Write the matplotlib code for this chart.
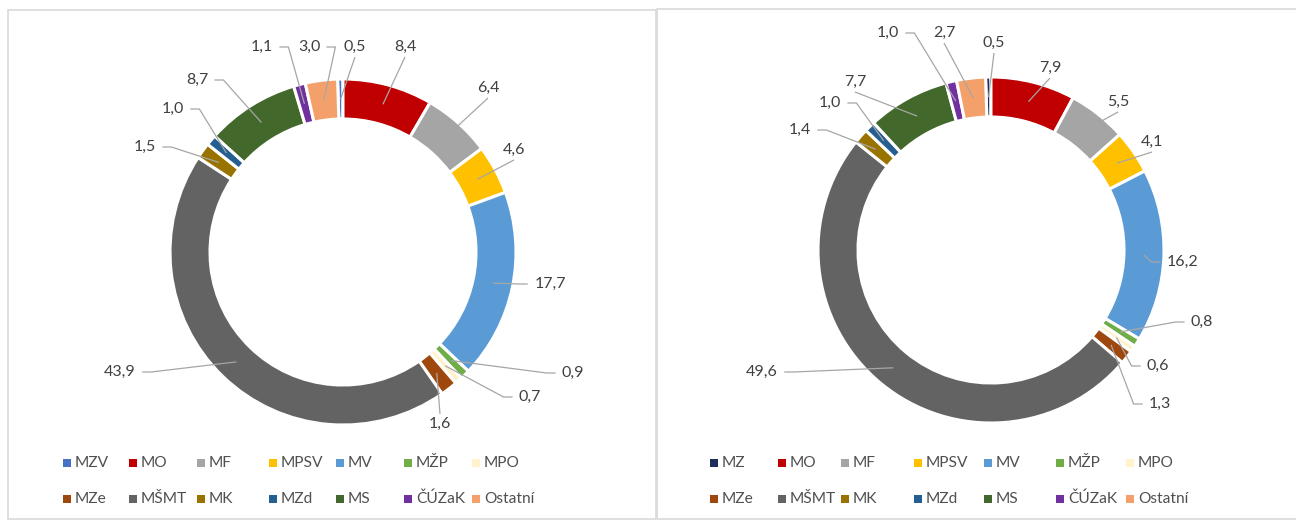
import matplotlib
matplotlib.use("Agg")
import matplotlib.pyplot as plt
from matplotlib.patches import Rectangle
import numpy as np

# ---------------- data ----------------
left_labels = ["MZV", "MO", "MF", "MPSV", "MV", "MŽP", "MPO",
               "MZe", "MŠMT", "MK", "MZd", "MS", "ČÚZaK", "Ostatní"]
left_values = [0.5, 8.4, 6.4, 4.6, 17.7, 0.9, 0.7, 1.6, 43.9, 1.5, 1.0, 8.7, 1.1, 3.0]

right_labels = ["MZ", "MO", "MF", "MPSV", "MV", "MŽP", "MPO",
                "MZe", "MŠMT", "MK", "MZd", "MS", "ČÚZaK", "Ostatní"]
right_values = [0.5, 7.9, 5.5, 4.1, 16.2, 0.8, 0.6, 1.3, 49.6, 1.4, 1.0, 7.7, 1.0, 2.7]

# ---------------- styles ----------------
left_colors = ["#4472C4", "#C00000", "#A5A5A5", "#FFC000", "#5B9BD5", "#70AD47", "#FFF2CC",
               "#9E480E", "#636363", "#997300", "#255E91", "#43682B", "#7030A0", "#F4A06A"]
right_colors = ["#1F2D5A"] + left_colors[1:]

# label text positions (pixel coords) and leader attach side
left_label_pos = [(355, 47), (405, 47), (488, 88), (514, 150), (550, 284), (573, 373), (530, 397),
                  (440, 424), (120, 372), (145, 147), (173, 109), (197, 80), (262, 47), (309, 47)]
left_attach = ["b", "b", "b", "b", "l", "l", "l", "t", "r", "r", "r", "r", "r", "r"]
right_label_pos = [(994, 43), (1050, 68), (1118, 102), (1152, 142), (1183, 262), (1202, 322), (1158, 366),
                   (1160, 404), (762, 372), (800, 130), (830, 103), (855, 82), (888, 33), (944, 33)]
right_attach = ["b", "b", "b", "b", "l", "l", "l", "l", "r", "r", "r", "b", "r", "b"]

left_legend_x = [67, 133, 201, 273, 340, 408, 476]
right_legend_x = [714, 782, 845, 918, 988, 1060, 1130]
legend_rows_y = [463, 499]

W, H = 1296, 520
FONT = "Lato"
TXT = "#404040"
LEAD = "#A6A6A6"

fig = plt.figure(figsize=(W / 100, H / 100), dpi=100)
ax = fig.add_axes([0, 0, 1, 1])


def Y(y):
    return H - y


def fmt(v):
    return f"{v:.1f}".replace(".", ",")


def donut(values, colors, center, label_pos, attach):
    R, width = 173, 40
    ax.pie(values, colors=colors, startangle=90 + values[0] * 3.6, counterclock=False,
           radius=R, center=(center[0], Y(center[1])), normalize=True,
           wedgeprops=dict(width=width, edgecolor="white", linewidth=2.2))
    total = sum(values)
    cum = 0.0
    start = 90 + values[0] * 3.6
    for v, (tx, ty), side in zip(values, label_pos, attach):
        mid = cum + v / 2
        cum += v
        ang = np.deg2rad(start - 360 * mid / total)
        rm = R - width / 2
        axp = center[0] + rm * np.cos(ang)
        ayp = Y(center[1]) + rm * np.sin(ang)
        s = fmt(v)
        hw = len(s) * 4.8
        ty_ = Y(ty)
        if side == "r":
            x0 = tx + hw + 3
            xs = [x0, x0 + 9, axp]
            ys = [ty_, ty_, ayp]
        elif side == "l":
            x0 = tx - hw - 3
            xs = [x0, x0 - 9, axp]
            ys = [ty_, ty_, ayp]
        elif side == "b":
            xs = [tx, axp]
            ys = [ty_ - 10, ayp]
        else:
            xs = [tx, axp]
            ys = [ty_ + 10, ayp]
        ax.plot(xs, ys, color=LEAD, lw=0.9, solid_capstyle="butt", zorder=1)
        ax.text(tx, ty_, s, ha="center", va="center", fontsize=11.5, family=FONT, color=TXT, zorder=5)


def legend(labels, colors, xs):
    for i, (lab, col) in enumerate(zip(labels, colors)):
        r, c = divmod(i, 7)
        x = xs[c]
        y = Y(legend_rows_y[r])
        ax.add_patch(Rectangle((x - 4, y - 4), 8, 8, facecolor=col, edgecolor="none"))
        ax.text(x + 8, y, lab, ha="left", va="center", fontsize=11.2, family=FONT, color="#505050")


donut(left_values, left_colors, (343, 252), left_label_pos, left_attach)
donut(right_values, right_colors, (991, 250), right_label_pos, right_attach)
legend(left_labels, left_colors, left_legend_x)
legend(right_labels, right_colors, right_legend_x)

# panel frames
ax.add_patch(Rectangle((8, Y(519)), 648, 509, fill=False, edgecolor="#D9D9D9", lw=1.2))
ax.add_patch(Rectangle((657, Y(519)), 660, 510, fill=False, edgecolor="#D9D9D9", lw=1.2))

ax.set_xlim(0, W)
ax.set_ylim(0, H)
ax.set_aspect("auto")
ax.axis("off")

fig.savefig("out.png", dpi=100, facecolor="white")
